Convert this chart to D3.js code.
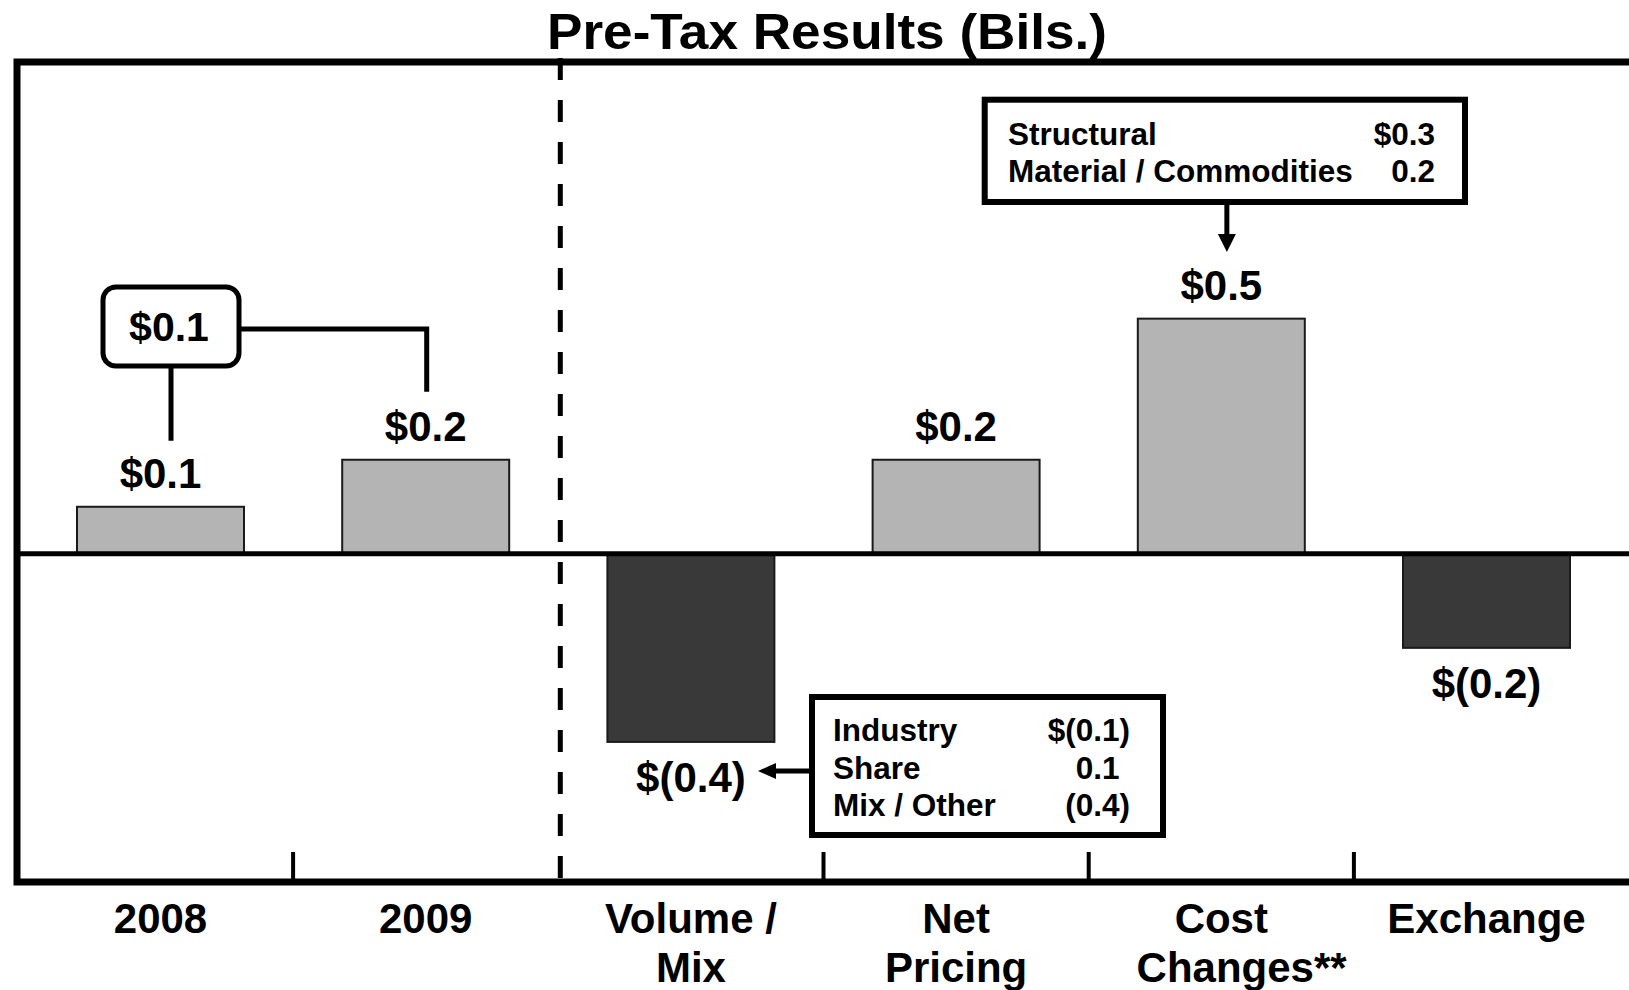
<!DOCTYPE html>
<html>
<head>
<meta charset="utf-8">
<script src="https://cdn.jsdelivr.net/npm/d3@7"></script>
<style>
  html, body { margin: 0; padding: 0; background: #ffffff; }
  svg { display: block; }
  text { font-family: "Liberation Sans", Arial, Helvetica, sans-serif; font-weight: bold; fill: #000; }
</style>
</head>
<body>
<svg id="chart" width="1629" height="990"></svg>
<script>
// ---- data ----
const categories = ["2008", "2009", "Volume / Mix", "Net Pricing", "Cost Changes**", "Exchange"];
const categoryLines = [["2008"], ["2009"], ["Volume /", "Mix"], ["Net", "Pricing"], ["Cost", "Changes**"], ["Exchange"]];
const values = [0.1, 0.2, -0.4, 0.2, 0.5, -0.2];
const valueLabels = ["$0.1", "$0.2", "$(0.4)", "$0.2", "$0.5", "$(0.2)"];

const changeLabel = "$0.1";                 // 2008 -> 2009 change
const volumeDetail = [["Industry", "$(0.1)"], ["Share", "0.1"], ["Mix / Other", "(0.4)"]];
const costDetail = [["Structural", "$0.3"], ["Material / Commodities", "0.2"]];

const titleText = "Pre-Tax Results (Bils.)";

// ---- layout ----
const W = 1629, H = 990;
const frame = { left: 17, top: 62, bottom: 882 };
const svg = d3.select("#chart");

const x = d3.scaleBand()
  .domain(categories)
  .range([27.9, 27.9 + 6 * 265.2])
  .paddingInner(0.3703)
  .paddingOuter(0.18515);

const y = d3.scaleLinear()
  .domain([-0.7, 1.05])
  .range([883, 60]);

const cx = c => x(c) + x.bandwidth() / 2;

// title
svg.append("text")
  .attr("x", 827)
  .attr("y", 49)
  .attr("text-anchor", "middle")
  .attr("font-size", 50)
  .attr("textLength", 560)
  .attr("lengthAdjust", "spacingAndGlyphs")
  .text(titleText);

// bars
svg.append("g").selectAll("rect")
  .data(categories)
  .join("rect")
  .attr("x", c => x(c))
  .attr("width", x.bandwidth())
  .attr("y", (c, i) => Math.min(y(values[i]), y(0)))
  .attr("height", (c, i) => Math.abs(y(values[i]) - y(0)))
  .attr("fill", (c, i) => values[i] >= 0 ? "#b4b4b4" : "#393939")
  .attr("stroke", "#1a1a1a")
  .attr("stroke-width", 2);

// zero line
svg.append("line")
  .attr("x1", frame.left).attr("x2", W + 10)
  .attr("y1", y(0)).attr("y2", y(0))
  .attr("stroke", "#000").attr("stroke-width", 5);

// frame (open on the right)
svg.append("path")
  .attr("d", `M${W + 10},${frame.top} H${frame.left} V${frame.bottom} H${W + 10}`)
  .attr("fill", "none")
  .attr("stroke", "#000")
  .attr("stroke-width", 7);

// separators between categories; dashed divider between actuals and drivers
const step = x.step();
categories.slice(0, -1).forEach((c, i) => {
  const sx = cx(c) + step / 2;
  if (i === 1) {
    svg.append("line")
      .attr("x1", sx + 2).attr("x2", sx + 2)
      .attr("y1", frame.top - 4).attr("y2", frame.bottom - 4)
      .attr("stroke", "#000").attr("stroke-width", 5)
      .attr("stroke-dasharray", "22,20");
  } else {
    svg.append("line")
      .attr("x1", sx).attr("x2", sx)
      .attr("y1", frame.bottom - 30).attr("y2", frame.bottom)
      .attr("stroke", "#000").attr("stroke-width", 4);
  }
});

// value labels
svg.append("g").selectAll("text")
  .data(categories)
  .join("text")
  .attr("x", c => cx(c))
  .attr("y", (c, i) => values[i] >= 0 ? y(values[i]) - 19 : y(values[i]) + 50)
  .attr("text-anchor", "middle")
  .attr("font-size", 42)
  .text((c, i) => valueLabels[i]);

// category labels
const catG = svg.append("g");
categories.forEach((c, i) => {
  categoryLines[i].forEach((line, j) => {
    const t = catG.append("text")
      .attr("x", cx(c))
      .attr("y", 933 + j * 49)
      .attr("text-anchor", "middle")
      .attr("font-size", 42);
    const m = line.match(/^(.*?)(\*+)$/);
    if (m) {
      // footnote stars hang to the right of the centred word
      t.attr("text-anchor", "start");
      const base = t.append("tspan").text(m[1]);
      const wBase = base.node().getComputedTextLength();
      t.attr("x", cx(c) + 4 - wBase / 2);
      t.append("tspan").text(m[2]);
    } else {
      t.text(line);
    }
  });
});

// ---- 2008 -> 2009 change callout ----
const box1 = { x: 103, y: 287, w: 136, h: 79 };
svg.append("rect")
  .attr("x", box1.x).attr("y", box1.y)
  .attr("width", box1.w).attr("height", box1.h)
  .attr("rx", 13).attr("ry", 13)
  .attr("fill", "#fff").attr("stroke", "#000").attr("stroke-width", 5);
svg.append("text")
  .attr("x", box1.x + box1.w / 2 - 2)
  .attr("y", box1.y + 54)
  .attr("text-anchor", "middle")
  .attr("font-size", 41)
  .text(changeLabel);
const b1cx = box1.x + box1.w / 2;
svg.append("path")
  .attr("d", `M${b1cx},${box1.y + box1.h} V${y(values[0]) - 66}`)
  .attr("fill", "none").attr("stroke", "#000").attr("stroke-width", 5);
svg.append("path")
  .attr("d", `M${box1.x + box1.w},${box1.y + 42} H${cx(categories[1]) + 1} V${y(values[1]) - 68}`)
  .attr("fill", "none").attr("stroke", "#000").attr("stroke-width", 5);

// ---- cost changes breakdown ----
const box2 = { x: 984.7, y: 99.7, w: 480.3, h: 102.3 };
svg.append("rect")
  .attr("x", box2.x).attr("y", box2.y)
  .attr("width", box2.w).attr("height", box2.h)
  .attr("fill", "#fff").attr("stroke", "#000").attr("stroke-width", 6);
costDetail.forEach((row, i) => {
  svg.append("text")
    .attr("x", 1008).attr("y", 145 + i * 36.7)
    .attr("font-size", 31.5).text(row[0]);
  svg.append("text")
    .attr("x", 1435).attr("y", 145 + i * 36.7)
    .attr("text-anchor", "end")
    .attr("font-size", 31.5).text(row[1]);
});
const b2cx = box2.x + box2.w / 2 + 2;
svg.append("line")
  .attr("x1", b2cx).attr("x2", b2cx)
  .attr("y1", box2.y + box2.h).attr("y2", 236)
  .attr("stroke", "#000").attr("stroke-width", 5);
svg.append("path")
  .attr("d", `M${b2cx - 9},234 L${b2cx + 9},234 L${b2cx},252 Z`)
  .attr("fill", "#000");

// ---- volume / mix breakdown ----
const box3 = { x: 812, y: 697, w: 351, h: 138 };
svg.append("rect")
  .attr("x", box3.x).attr("y", box3.y)
  .attr("width", box3.w).attr("height", box3.h)
  .attr("fill", "#fff").attr("stroke", "#000").attr("stroke-width", 6);
const volRight = 1130;
volumeDetail.forEach((row, i) => {
  const by = 741 + i * 37.5;
  svg.append("text")
    .attr("x", 833).attr("y", by)
    .attr("font-size", 31.5).text(row[0]);
  const vt = svg.append("text")
    .attr("x", volRight).attr("y", by)
    .attr("text-anchor", "end")
    .attr("font-size", 31.5).text(row[1]);
  // unbracketed figures line up with the digits of bracketed ones
  if (!row[1].endsWith(")")) vt.attr("x", volRight - 31.5 * 0.333);
});
const arrowY = 771;
svg.append("line")
  .attr("x1", box3.x).attr("x2", 772)
  .attr("y1", arrowY).attr("y2", arrowY)
  .attr("stroke", "#000").attr("stroke-width", 5);
svg.append("path")
  .attr("d", `M776,${arrowY - 8} L776,${arrowY + 8} L758,${arrowY} Z`)
  .attr("fill", "#000");
</script>
</body>
</html>
